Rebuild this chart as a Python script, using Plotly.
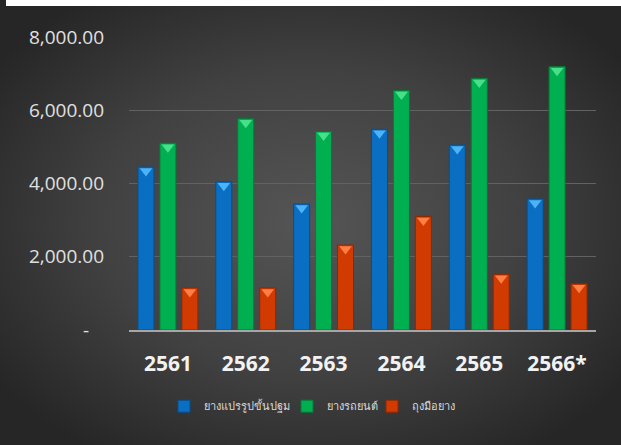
import base64
import plotly.graph_objects as go

years = ["2561", "2562", "2563", "2564", "2565", "2566*"]
processed_rubber = [4450, 4050, 3440, 5480, 5050, 3580]   # ยางแปรรูปขั้นปฐม
tyres = [5100, 5770, 5420, 6540, 6870, 7190]               # ยางรถยนต์
gloves = [1150, 1150, 2320, 3100, 1520, 1260]              # ถุงมือยาง

series_names = ["ยางแปรรูปขั้นปฐม", "ยางรถยนต์", "ถุงมือยาง"]
series_values = [processed_rubber, tyres, gloves]
series_colors = ["#0a6fc2", "#00b050", "#d13b02"]
series_lines = ["#064f8c", "#067a38", "#8f2800"]
series_tops = ["#4db3f7", "#48df8a", "#ff7f45"]

y_tickvals = [0, 2000, 4000, 6000, 8000]
y_ticktext = ["-\u00a0\u00a0\u00a0", "2,000.00", "4,000.00", "6,000.00", "8,000.00"]

W, H = 621, 445
L, R, T, B = 129, 25, 37, 115
pw = W - L - R
ph = H - T - B

svg = f'''<svg xmlns="http://www.w3.org/2000/svg" width="{W}" height="{H}">
<defs><radialGradient id="g" cx="50%" cy="50%" r="62%">
<stop offset="0%" stop-color="#555555"/><stop offset="55%" stop-color="#414141"/><stop offset="100%" stop-color="#262626"/>
</radialGradient></defs>
<rect x="0" y="0" width="{W}" height="{H}" fill="url(#g)"/>
<rect x="6" y="0" width="{W - 6}" height="6" fill="#ffffff"/>
</svg>'''
src = "data:image/svg+xml;base64," + base64.b64encode(svg.encode()).decode()

legend_left_px = [164, 287, 372]
legend_ids = ["legend", "legend2", "legend3"]

fig = go.Figure()
for i, (name, vals, col, lc) in enumerate(zip(series_names, series_values, series_colors, series_lines)):
    fig.add_trace(go.Bar(
        x=years, y=vals, name=name, offsetgroup=str(i),
        marker=dict(color=col, line=dict(color=lc, width=1)),
        legend=legend_ids[i],
    ))
# bevel caps on bar tops
for i, (vals, tc) in enumerate(zip(series_values, series_tops)):
    fig.add_trace(go.Scatter(
        x=years, y=vals, mode="markers", offsetgroup=str(i), showlegend=False,
        marker=dict(symbol="triangle-down", size=11, color=tc, standoff=4,
                    line=dict(width=0)),
        hoverinfo="skip",
    ))

fig.add_layout_image(dict(
    source=src, xref="paper", yref="paper",
    x=-L / pw, y=1 + T / ph, sizex=W / pw, sizey=H / ph,
    sizing="stretch", layer="below", xanchor="left", yanchor="top",
))

legend_font = dict(family="Noto Sans, Tahoma, sans-serif", size=11, color="#d9d9d9")
legend_y = -0.26
legends = {}
for lid, lx in zip(legend_ids, legend_left_px):
    legends[lid] = dict(
        orientation="h", x=(lx - L) / pw, xanchor="left", y=legend_y, yanchor="middle",
        font=legend_font, bgcolor="rgba(0,0,0,0)",
    )

fig.update_layout(
    width=W, height=H,
    margin=dict(l=L, r=R, t=T, b=B),
    paper_bgcolor="#333333",
    plot_bgcolor="rgba(0,0,0,0)",
    barmode="group",
    bargap=0.154,
    bargroupgap=0.27,
    scattermode="group",
    scattergap=0.154,
    showlegend=True,
    font=dict(family="Open Sans, sans-serif"),
    **legends,
)
fig.update_yaxes(
    range=[0, 8000], tickvals=y_tickvals, ticktext=y_ticktext,
    showgrid=True, gridcolor="#626262", gridwidth=1,
    zeroline=False, showline=False,
    tickfont=dict(family="Open Sans, sans-serif", size=19, color="#e0e0e0"),
    ticklabelstandoff=24,
)
fig.update_xaxes(
    showline=True, linecolor="#a6a6a6", linewidth=2,
    showgrid=False, ticks="",
    tickfont=dict(family="Open Sans, sans-serif", size=21, color="#f2f2f2", weight="bold"),
    ticklabelstandoff=14,
)

fig.write_html("out.html", config={"displayModeBar": False},
               post_script="document.body.style.margin='0';")
